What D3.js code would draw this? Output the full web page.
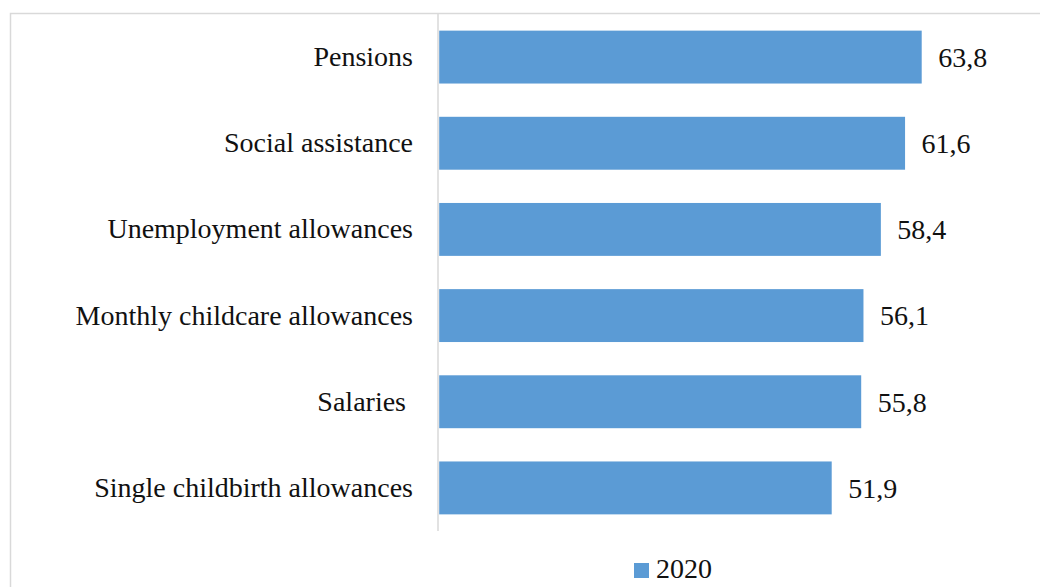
<!DOCTYPE html>
<html>
<head>
<meta charset="utf-8">
<script src="https://cdn.jsdelivr.net/npm/d3@7"></script>
<style>
  body { margin: 0; background: #fff; }
  text { font-family: "Liberation Serif", "Times New Roman", serif; fill: #111; white-space: pre; }
</style>
</head>
<body>
<div id="chart"></div>
<script>
var svgWidth = 1040;
var svgHeight = 587;

var categories = ["Pensions", "Social assistance", "Unemployment allowances",
  "Monthly childcare allowances", "Salaries ", "Single childbirth allowances"];
var values2020 = [63.8, 61.6, 58.4, 56.1, 55.8, 51.9];
var seriesName = "2020";

var barColor = "#5b9bd5";
var fontSize = 28;

var svg = d3.select("#chart")
  .append("svg")
  .attr("width", svgWidth)
  .attr("height", svgHeight);

// chart area border (only left and top show in the frame)
svg.append("rect")
  .attr("x", 10.5)
  .attr("y", 13.5)
  .attr("width", 1100)
  .attr("height", 700)
  .attr("fill", "none")
  .attr("stroke", "#d9d9d9")
  .attr("stroke-width", 1.5);

var xScale = d3.scaleLinear()
  .domain([0, 63.8])
  .range([439.2, 921.7]);

var yScale = d3.scaleBand()
  .domain(categories)
  .range([14, 531])
  .paddingInner(0.386)
  .paddingOuter(0.193);

// bars
svg.selectAll("rect.bar")
  .data(values2020)
  .enter()
  .append("rect")
  .attr("class", "bar")
  .attr("x", xScale(0))
  .attr("y", (d, i) => yScale(categories[i]))
  .attr("width", d => xScale(d) - xScale(0))
  .attr("height", yScale.bandwidth())
  .attr("fill", barColor);

// vertical axis line + category labels
var yAxis = d3.axisLeft(yScale).tickSize(0).tickPadding(25);
var axisG = svg.append("g")
  .attr("transform", `translate(${xScale(0) - 1.2},0)`)
  .call(yAxis);
axisG.select(".domain")
  .attr("stroke", "#d9d9d9")
  .attr("stroke-width", 1.5)
  .attr("d", "M0,14V531");
axisG.selectAll("text")
  .attr("xml:space", "preserve")
  .style("font-family", "'Liberation Serif', serif")
  .style("font-size", fontSize + "px")
  .attr("fill", "#111");

// value labels
svg.selectAll("text.val")
  .data(values2020)
  .enter()
  .append("text")
  .attr("class", "val")
  .attr("x", d => xScale(d) + 16.5)
  .attr("y", (d, i) => yScale(categories[i]) + yScale.bandwidth() / 2)
  .attr("dy", "0.35em")
  .style("font-size", fontSize + "px")
  .text(d => d.toFixed(1).replace(".", ","));

// legend
var legend = svg.append("g").attr("transform", "translate(634,563)");
legend.append("rect")
  .attr("width", 15)
  .attr("height", 15)
  .attr("fill", barColor);
legend.append("text")
  .attr("x", 22)
  .attr("y", 15)
  .style("font-size", fontSize + "px")
  .text(seriesName);
</script>
</body>
</html>
